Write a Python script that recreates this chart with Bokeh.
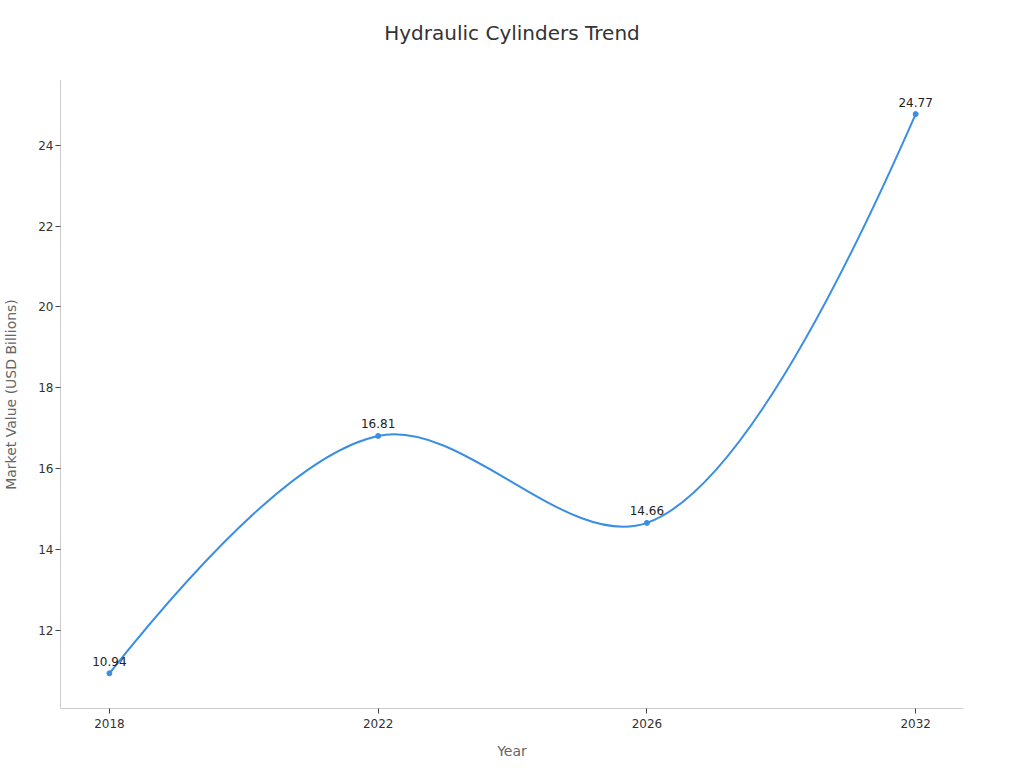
import numpy as np
from bokeh.plotting import figure
from bokeh.models import FixedTicker, ColumnDataSource, Range1d, Title
from bokeh.embed import file_html
from bokeh.resources import INLINE
from bokeh.core.properties import value

years = ["2018", "2022", "2026", "2032"]
market_value = [10.94, 16.81, 14.66, 24.77]
value_labels = ["10.94", "16.81", "14.66", "24.77"]
y_ticks = [12, 14, 16, 18, 20, 22, 24]
title_text = "Hydraulic Cylinders Trend"

FONT = "DejaVu Sans"
LINE_COLOR = "#3a8ee3"

p = figure(width=1016, height=763, output_backend="svg", toolbar_location=None,
           x_range=Range1d(-0.182, 3.178), y_range=Range1d(10.07, 25.6),
           min_border_left=59, min_border_right=53, min_border_top=80, min_border_bottom=55)

p.title.text = title_text
p.title.align = "center"
p.title.text_font = FONT
p.title.text_font_size = "20px"
p.title.text_font_style = "normal"
p.title.text_color = "#333333"
p.title.offset = 0
p.title.standoff = 0

# spacer between the title and the plot frame
spacer = Title(text=" ", text_font=FONT, text_font_size="20px", standoff=10, align="center")
p.add_layout(spacer, "above")

xs = np.arange(len(years), dtype=float)
ys = np.array(market_value, dtype=float)

# Centripetal Catmull-Rom style spline (smoothing 1), computed in screen-proportional space
sx, sy = 269.0, 40.5
P = np.column_stack([xs * sx, ys * sy])
n = len(P)
tangents = []
for i in range(1, n - 1):
    d1 = P[i - 1] - P[i]
    d2 = P[i + 1] - P[i]
    d1a = np.hypot(*d1) ** 0.5
    d2a = np.hypot(*d2) ** 0.5
    num = (d2a * d2a * d1 - d1a * d1a * d2)
    den1 = 3 * d2a * (d1a + d2a)
    den2 = 3 * d1a * (d1a + d2a)
    tangents.append((P[i] + num / den1, P[i] - num / den2))

def to_data(pt):
    return pt[0] / sx, pt[1] / sy

# interior cubic segments
cx0, cy0, cx1, cy1, bx0, by0, bx1, by1 = [], [], [], [], [], [], [], []
for i in range(1, n - 2):
    a = to_data(tangents[i - 1][1])
    b = to_data(tangents[i][0])
    bx0.append(xs[i]); by0.append(ys[i]); bx1.append(xs[i + 1]); by1.append(ys[i + 1])
    cx0.append(a[0]); cy0.append(a[1]); cx1.append(b[0]); cy1.append(b[1])
p.bezier(x0=bx0, y0=by0, x1=bx1, y1=by1, cx0=cx0, cy0=cy0, cx1=cx1, cy1=cy1,
         line_color=LINE_COLOR, line_width=2)

# end quadratic segments
qa = to_data(tangents[0][0])
qb = to_data(tangents[-1][1])
p.quadratic(x0=[xs[0], xs[n - 2]], y0=[ys[0], ys[n - 2]],
            x1=[xs[1], xs[n - 1]], y1=[ys[1], ys[n - 1]],
            cx=[qa[0], qb[0]], cy=[qa[1], qb[1]],
            line_color=LINE_COLOR, line_width=2)

src = ColumnDataSource(dict(x=xs, y=ys, label=value_labels))
p.scatter("x", "y", source=src, size=5, fill_color=LINE_COLOR, line_color=LINE_COLOR)
p.text("x", "y", text="label", source=src, text_align="center", text_baseline="alphabetic",
       y_offset=-12, text_font=value(FONT), text_font_size="12px", text_color="#222222")

p.xaxis.ticker = FixedTicker(ticks=list(xs))
overrides = {}
for i, y in enumerate(years):
    overrides[i] = y
    overrides[float(i)] = y
p.xaxis.major_label_overrides = overrides
p.yaxis.ticker = FixedTicker(ticks=y_ticks)

p.xaxis.axis_label = "Year"
p.yaxis.axis_label = "Market Value (USD Billions)"
for ax in (p.xaxis, p.yaxis):
    ax.axis_label_text_font = FONT
    ax.axis_label_text_font_size = "14px"
    ax.axis_label_text_font_style = "normal"
    ax.axis_label_text_color = "#666666"
    ax.major_label_text_font = FONT
    ax.major_label_text_font_size = "12px"
    ax.major_label_text_color = "#333333"
    ax.axis_line_color = "#cccccc"
    ax.major_tick_line_color = "#444444"
    ax.major_tick_in = 0
    ax.major_tick_out = 5
    ax.minor_tick_line_color = None
p.xaxis.axis_label_standoff = 12
p.yaxis.axis_label_standoff = 16
p.xaxis.major_label_standoff = 5
p.yaxis.major_label_standoff = 2

p.xgrid.grid_line_color = None
p.ygrid.grid_line_color = None
p.outline_line_color = None

open("out.html", "w").write(file_html(p, INLINE))
